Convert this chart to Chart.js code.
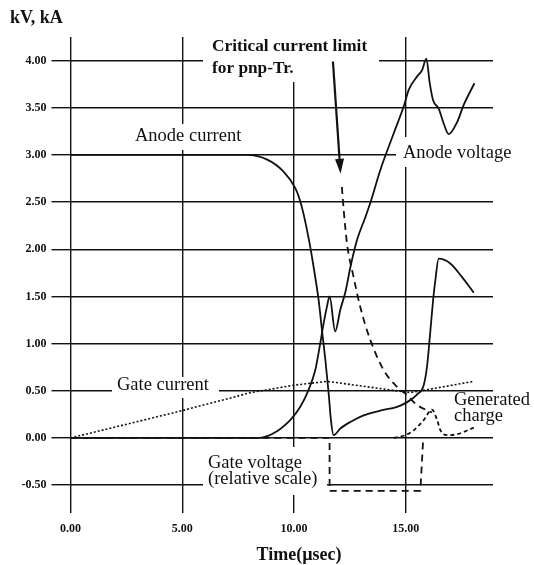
<!DOCTYPE html>
<html><head><meta charset="utf-8">
<script src="https://cdn.jsdelivr.net/npm/chart.js@4.4.1/dist/chart.umd.min.js"></script>
<style>html,body{margin:0;padding:0;background:#fff;} canvas{display:block;}</style>
</head><body>
<canvas id="c" width="534" height="565"></canvas>
<script>
// ---- data (time in µsec, values in kV / kA) ----
const xTicks = [0, 5, 10, 15];
const yTicks = [-0.5, 0, 0.5, 1, 1.5, 2, 2.5, 3, 3.5, 4];

const anodeCurrentT = [0, 7.9, 8.8, 9.5, 10.05, 10.25, 10.43, 10.65, 10.87, 11.1, 11.25, 11.4, 11.55, 11.65, 11.77, 12.07, 12.52, 13.11, 13.86, 14.61, 15.06, 15.5, 15.8, 15.95, 16.1, 16.22, 16.32, 16.47, 16.99, 17.5, 18.04];
const anodeCurrentV = [3.0, 3.0, 2.95, 2.83, 2.65, 2.53, 2.37, 2.12, 1.82, 1.46, 1.14, 0.83, 0.47, 0.19, 0.03, 0.10, 0.17, 0.24, 0.29, 0.33, 0.38, 0.46, 0.56, 0.76, 1.14, 1.46, 1.67, 1.90, 1.85, 1.71, 1.54];

const anodeVoltageT = [0, 8.3, 9.0, 9.83, 10.28, 10.65, 10.95, 11.17, 11.32, 11.47, 11.59, 11.84, 12.07, 12.3, 12.52, 12.82, 13.19, 13.45, 13.86, 14.46, 14.9, 15.13, 15.5, 15.73, 15.92, 16.07, 16.22, 16.47, 16.7, 16.92, 17.3, 17.59, 18.07];
const anodeVoltageV = [0, 0, 0.04, 0.19, 0.33, 0.51, 0.72, 1.0, 1.21, 1.39, 1.50, 1.13, 1.36, 1.55, 1.81, 2.10, 2.34, 2.52, 2.84, 3.23, 3.51, 3.69, 3.83, 3.90, 4.02, 3.76, 3.58, 3.49, 3.33, 3.22, 3.35, 3.53, 3.76];

const gateCurrentT = [0, 5, 8.05, 10.0, 11.5, 15.2, 18.04];
const gateCurrentV = [0, 0.29, 0.48, 0.56, 0.60, 0.48, 0.60];

const criticalLimitT = [12.14, 12.22, 12.37, 12.66, 12.96, 13.41, 14.01, 14.61, 14.98, 15.5, 16.17];
const criticalLimitV = [2.66, 2.42, 2.06, 1.71, 1.39, 1.04, 0.72, 0.54, 0.47, 0.35, 0.27];

const generatedChargeT = [14.46, 14.98, 15.35, 15.8, 16.17, 16.4, 16.55, 16.85, 17.3, 18.04];
const generatedChargeV = [0, 0.03, 0.08, 0.19, 0.30, 0.19, 0.08, 0.03, 0.04, 0.11];

const gateVoltageT = [0, 11.59, 11.59, 15.65, 15.78];
const gateVoltageV = [0, 0, -0.56, -0.56, 0];

function pts(t, v) { return t.map((x, i) => ({ x: x, y: v[i] })); }
function fmt(v) { const n = Number(v); return (Math.abs(n) < 1e-9 ? 0 : n).toFixed(2); }

const serif = "'Liberation Serif','Times New Roman',serif";
const ink = '#111';

const labels = [
  { lines: ['Anode current'], x: 135, y: 136, lh: 0, font: '18.5px ' + serif, box: [130, 124, 247, 150] },
  { lines: ['Critical current limit', 'for pnp-Tr.'], x: 212, y: 47, lh: 21.6, font: 'bold 17.3px ' + serif, box: [203, 33, 379, 82] },
  { lines: ['Anode voltage'], x: 403, y: 153, lh: 0, font: '18.5px ' + serif, box: [396, 137, 520, 167] },
  { lines: ['Gate current'], x: 117, y: 385, lh: 0, font: '18.5px ' + serif, box: [112, 377, 219, 398] },
  { lines: ['Generated', 'charge'], x: 454, y: 400, lh: 16, font: '18.5px ' + serif, box: [450, 393, 534, 425] },
  { lines: ['Gate voltage', '(relative scale)'], x: 208, y: 463, lh: 16, font: '18.5px ' + serif, box: [203, 447, 327, 495] }
];

const annot = {
  id: 'annot',
  beforeDatasetsDraw(chart) {
    const ctx = chart.ctx;
    ctx.save();
    labels.forEach(l => {
      ctx.fillStyle = '#fff';
      ctx.fillRect(l.box[0], l.box[1], l.box[2] - l.box[0], l.box[3] - l.box[1]);
      ctx.fillStyle = ink;
      ctx.font = l.font;
      ctx.textBaseline = 'middle';
      ctx.textAlign = 'left';
      l.lines.forEach((s, i) => ctx.fillText(s, l.x, l.y + i * l.lh));
    });
    ctx.restore();
  },
  afterDatasetsDraw(chart) {
    const ctx = chart.ctx, xs = chart.scales.x, ys = chart.scales.y;
    const x0 = xs.getPixelForValue(11.74), y0 = ys.getPixelForValue(3.99);
    const x1 = xs.getPixelForValue(12.08), y1 = ys.getPixelForValue(2.80);
    const ang = Math.atan2(y1 - y0, x1 - x0);
    const L = 15, W = 4.5;
    const bx = x1 - L * Math.cos(ang), by = y1 - L * Math.sin(ang);
    ctx.save();
    ctx.strokeStyle = ink; ctx.fillStyle = ink; ctx.lineWidth = 2.2;
    ctx.beginPath(); ctx.moveTo(x0, y0); ctx.lineTo(bx, by); ctx.stroke();
    ctx.beginPath();
    ctx.moveTo(x1, y1);
    ctx.lineTo(bx + W * Math.sin(ang), by - W * Math.cos(ang));
    ctx.lineTo(bx - W * Math.sin(ang), by + W * Math.cos(ang));
    ctx.closePath(); ctx.fill();
    ctx.restore();
  },
  afterDraw(chart) {
    const ctx = chart.ctx;
    ctx.save();
    ctx.fillStyle = ink;
    ctx.font = 'bold 18px ' + serif;
    ctx.textBaseline = 'middle';
    ctx.textAlign = 'left';
    ctx.fillText('kV, kA', 10, 18);
    ctx.textAlign = 'center';
    ctx.fillText('Time(\u00b5sec)', 299, 555);
    ctx.restore();
  }
};

const tickFont = { family: serif, size: 12, weight: 'bold' };

new Chart(document.getElementById('c'), {
  type: 'scatter',
  data: {
    datasets: [
      { label: 'Anode current', data: pts(anodeCurrentT, anodeCurrentV), showLine: true, borderColor: ink, borderWidth: 1.8, cubicInterpolationMode: 'monotone', pointRadius: 0 },
      { label: 'Anode voltage', data: pts(anodeVoltageT, anodeVoltageV), showLine: true, borderColor: ink, borderWidth: 1.8, cubicInterpolationMode: 'monotone', pointRadius: 0 },
      { label: 'Gate current', data: pts(gateCurrentT, gateCurrentV), showLine: true, borderColor: ink, borderWidth: 1.6, borderDash: [2, 2], tension: 0, pointRadius: 0 },
      { label: 'Critical current limit for pnp-Tr.', data: pts(criticalLimitT, criticalLimitV), showLine: true, borderColor: ink, borderWidth: 1.8, borderDash: [7, 5], cubicInterpolationMode: 'monotone', pointRadius: 0 },
      { label: 'Generated charge', data: pts(generatedChargeT, generatedChargeV), showLine: true, borderColor: ink, borderWidth: 1.8, borderDash: [4, 3], cubicInterpolationMode: 'monotone', pointRadius: 0 },
      { label: 'Gate voltage (relative scale)', data: pts(gateVoltageT, gateVoltageV), showLine: true, borderColor: ink, borderWidth: 1.8, borderDash: [7, 5], tension: 0, pointRadius: 0 }
    ]
  },
  options: {
    responsive: false,
    animation: false,
    devicePixelRatio: 1,
    layout: { padding: { top: 37, right: 41, bottom: 0, left: 0 } },
    plugins: { legend: { display: false }, tooltip: { enabled: false } },
    scales: {
      x: {
        type: 'linear', min: 0, max: 18.9,
        afterBuildTicks: s => { s.ticks = xTicks.map(v => ({ value: v })); },
        afterFit: s => { s.height = 52.5; },
        border: { display: false },
        grid: { color: ink, lineWidth: 1.4, drawTicks: false },
        ticks: { padding: 9, color: ink, font: tickFont, maxRotation: 0, autoSkip: false, callback: v => fmt(v) }
      },
      y: {
        type: 'linear', min: -0.79, max: 4.25,
        afterBuildTicks: s => { s.ticks = yTicks.map(v => ({ value: v })); },
        afterFit: s => { s.width = 70.5; },
        border: { display: false },
        grid: { color: ink, lineWidth: 1.4, drawTicks: true, tickLength: 19 },
        ticks: { padding: 5, color: ink, font: tickFont, autoSkip: false, callback: v => fmt(v) }
      }
    }
  },
  plugins: [annot]
});
</script>
</body></html>
